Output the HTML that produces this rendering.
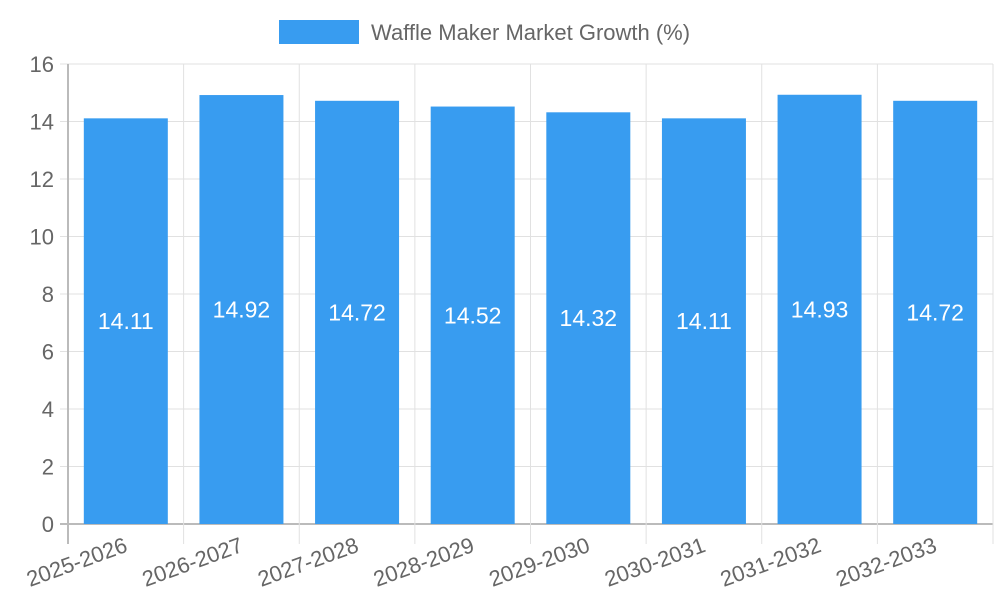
<!DOCTYPE html>
<html><head><meta charset="utf-8"><style>
html,body{margin:0;padding:0;background:#fff;}
svg{display:block;font-family:"Liberation Sans",sans-serif;}
</style></head><body>
<svg id="c" width="1000" height="600"></svg>
<script>
const categories=["2025-2026","2026-2027","2027-2028","2028-2029","2029-2030","2030-2031","2031-2032","2032-2033"];
const values=[14.11,14.92,14.72,14.52,14.32,14.11,14.93,14.72];
const yTicks=[0,2,4,6,8,10,12,14,16];
const seriesName="Waffle Maker Market Growth (%)";
const svg=document.getElementById('c');const NS='http://www.w3.org/2000/svg';
const L=68,R=993,T=64,B=524,yMax=16;
const y=v=>B-(v/yMax)*(B-T);
const bw=(R-L)/categories.length;
const x=i=>L+bw*i;
function el(t,a,p){const e=document.createElementNS(NS,t);for(const k in a)e.setAttribute(k,a[k]);(p||svg).appendChild(e);return e;}
// legend
const lg=el('g',{});


el('rect',{x:279,y:20,width:80,height:24,fill:'#389cf0'},lg);
const lt=el('text',{x:371,y:40,'font-size':22,fill:'#666'},lg);lt.textContent=seriesName;
// grid
for(const t of yTicks){const g=el('line',{x1:L-8,x2:R,y1:y(t),y2:y(t),stroke:t===0?'#bbb':'#e1e1e1','stroke-width':t===0?2:1});

const tx=el('text',{x:L-14,y:y(t)+8,'font-size':22,fill:'#666','text-anchor':'end'});tx.textContent=t;
}
for(let i=0;i<=categories.length;i++){const g=el('line',{x1:x(i),x2:x(i),y1:T,y2:B+20,stroke:i===0?'#bbb':'#e1e1e1','stroke-width':i===0?2:1});
}
// bars
categories.forEach((c,i)=>{const cx=x(i)+bw/2;
const r=el('rect',{x:cx-42,y:y(values[i]),width:84,height:B-y(values[i]),fill:'#389cf0'});

const v=el('text',{x:cx,y:(y(values[i])+B)/2+8,'font-size':23,fill:'#fff','text-anchor':'middle'});v.textContent=values[i].toFixed(2);

const lb=el('text',{x:cx+3,y:551,'font-size':22,fill:'#666','text-anchor':'end',transform:`rotate(-20 ${cx+3} 551)`});lb.textContent=c;
});
</script>
</body></html>
